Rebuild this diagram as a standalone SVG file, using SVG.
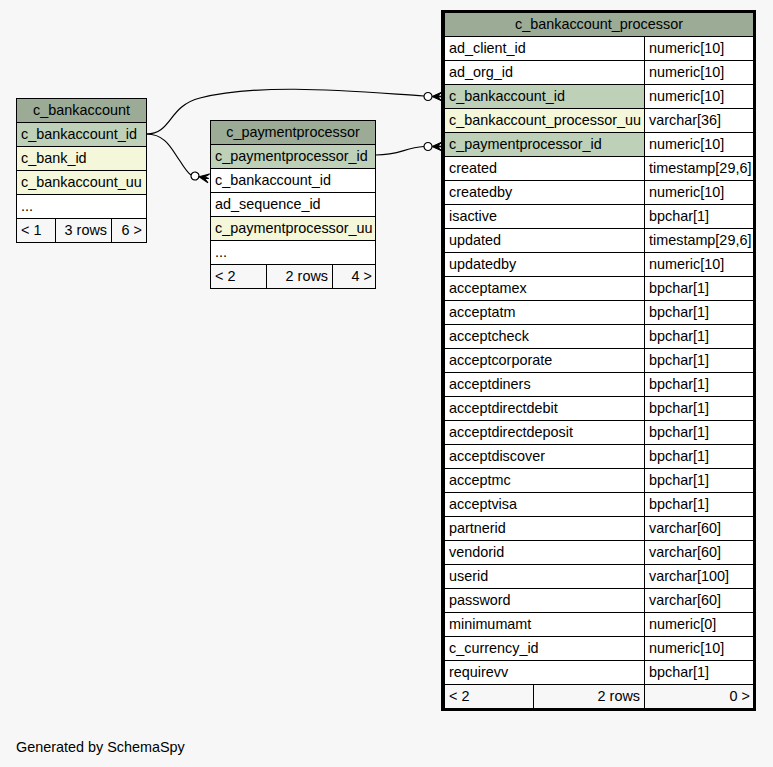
<svg xmlns="http://www.w3.org/2000/svg" width="773" height="767" viewBox="0 0 773 767">
<style>
text{font-family:"Liberation Sans",Arial,sans-serif;font-size:14.4px;fill:#000}
.c{text-anchor:middle}.r{text-anchor:end}
.hd{fill:#9bab96;stroke:#000;stroke-width:1}
.pk{fill:#bed1b8;stroke:#000;stroke-width:1}
.ix{fill:#f4f7da;stroke:#000;stroke-width:1}
.w{fill:#fff;stroke:#000;stroke-width:1}
.ft{fill:#f7f7f7;stroke:#000;stroke-width:1}
.edge{fill:none;stroke:#000;stroke-width:1.2}
.dot{fill:#fff;stroke:#000;stroke-width:1.2}
.cf{fill:#000;stroke:#000;stroke-width:1}
</style>
<defs>
<g id="crow"><circle class="dot" cx="0" cy="0" r="4"/><path class="cf" d="M4,0 L14,-4.5 L10,-0.8 L14,0 L10,0.8 L14,4.5 Z"/></g>
</defs>
<rect width="773" height="767" fill="#f7f7f7"/>

<g id="connectors">
<path class="edge" d="M146.5,134 C172,134 168,106 200,98 C262,82 360,92 424,96"/>
<use href="#crow" transform="translate(428,96.5)"/>
<path class="edge" d="M146.5,134 C166,134 172,150 180,161 C185,169 188,173 191,175"/>
<use href="#crow" transform="translate(195,176) rotate(10)"/>
<path class="edge" d="M376,155 C400,155 404,148 424,146.5"/>
<use href="#crow" transform="translate(428,146.5)"/>
</g>

<g id="c_bankaccount">
<rect class="hd" x="16.5" y="98.5" width="130" height="24"/>
<text class="c" x="81.5" y="115">c_bankaccount</text>
<rect class="pk" x="16.5" y="122.5" width="130" height="24"/>
<text x="21" y="139">c_bankaccount_id</text>
<rect class="ix" x="16.5" y="146.5" width="130" height="24"/>
<text x="21" y="163">c_bank_id</text>
<rect class="ix" x="16.5" y="170.5" width="130" height="24"/>
<text x="21" y="187">c_bankaccount_uu</text>
<rect class="w" x="16.5" y="194.5" width="130" height="24"/>
<text x="21" y="211">...</text>
<rect class="ft" x="16.5" y="218.5" width="39" height="24"/>
<rect class="ft" x="55.5" y="218.5" width="56" height="24"/>
<rect class="ft" x="111.5" y="218.5" width="35" height="24"/>
<text x="21" y="235">&lt; 1</text>
<text class="r" x="107" y="235">3 rows</text>
<text class="r" x="142" y="235">6 &gt;</text>
</g>

<g id="c_paymentprocessor">
<rect class="hd" x="210.5" y="120.5" width="165" height="24"/>
<text class="c" x="293" y="137">c_paymentprocessor</text>
<rect class="pk" x="210.5" y="144.5" width="165" height="24"/>
<text x="215" y="161">c_paymentprocessor_id</text>
<rect class="w" x="210.5" y="168.5" width="165" height="24"/>
<text x="215" y="185">c_bankaccount_id</text>
<rect class="w" x="210.5" y="192.5" width="165" height="24"/>
<text x="215" y="209">ad_sequence_id</text>
<rect class="ix" x="210.5" y="216.5" width="165" height="24"/>
<text x="215" y="233">c_paymentprocessor_uu</text>
<rect class="w" x="210.5" y="240.5" width="165" height="24"/>
<text x="215" y="257">...</text>
<rect class="ft" x="210.5" y="264.5" width="56" height="24"/>
<rect class="ft" x="266.5" y="264.5" width="66" height="24"/>
<rect class="ft" x="332.5" y="264.5" width="43" height="24"/>
<text x="215" y="281">&lt; 2</text>
<text class="r" x="328" y="281">2 rows</text>
<text class="r" x="372" y="281">4 &gt;</text>
</g>

<g id="c_bankaccount_processor">
<rect class="hd" x="444.5" y="12.5" width="309" height="24"/>
<text class="c" x="599" y="29">c_bankaccount_processor</text>
<rect class="w" x="444.5" y="36.5" width="200" height="24"/><rect class="w" x="644.5" y="36.5" width="109" height="24"/>
<text x="449" y="53">ad_client_id</text><text x="649" y="53">numeric[10]</text>
<rect class="w" x="444.5" y="60.5" width="200" height="24"/><rect class="w" x="644.5" y="60.5" width="109" height="24"/>
<text x="449" y="77">ad_org_id</text><text x="649" y="77">numeric[10]</text>
<rect class="pk" x="444.5" y="84.5" width="200" height="24"/><rect class="w" x="644.5" y="84.5" width="109" height="24"/>
<text x="449" y="101">c_bankaccount_id</text><text x="649" y="101">numeric[10]</text>
<rect class="ix" x="444.5" y="108.5" width="200" height="24"/><rect class="w" x="644.5" y="108.5" width="109" height="24"/>
<text x="449" y="125">c_bankaccount_processor_uu</text><text x="649" y="125">varchar[36]</text>
<rect class="pk" x="444.5" y="132.5" width="200" height="24"/><rect class="w" x="644.5" y="132.5" width="109" height="24"/>
<text x="449" y="149">c_paymentprocessor_id</text><text x="649" y="149">numeric[10]</text>
<rect class="w" x="444.5" y="156.5" width="200" height="24"/><rect class="w" x="644.5" y="156.5" width="109" height="24"/>
<text x="449" y="173">created</text><text x="649" y="173">timestamp[29,6]</text>
<rect class="w" x="444.5" y="180.5" width="200" height="24"/><rect class="w" x="644.5" y="180.5" width="109" height="24"/>
<text x="449" y="197">createdby</text><text x="649" y="197">numeric[10]</text>
<rect class="w" x="444.5" y="204.5" width="200" height="24"/><rect class="w" x="644.5" y="204.5" width="109" height="24"/>
<text x="449" y="221">isactive</text><text x="649" y="221">bpchar[1]</text>
<rect class="w" x="444.5" y="228.5" width="200" height="24"/><rect class="w" x="644.5" y="228.5" width="109" height="24"/>
<text x="449" y="245">updated</text><text x="649" y="245">timestamp[29,6]</text>
<rect class="w" x="444.5" y="252.5" width="200" height="24"/><rect class="w" x="644.5" y="252.5" width="109" height="24"/>
<text x="449" y="269">updatedby</text><text x="649" y="269">numeric[10]</text>
<rect class="w" x="444.5" y="276.5" width="200" height="24"/><rect class="w" x="644.5" y="276.5" width="109" height="24"/>
<text x="449" y="293">acceptamex</text><text x="649" y="293">bpchar[1]</text>
<rect class="w" x="444.5" y="300.5" width="200" height="24"/><rect class="w" x="644.5" y="300.5" width="109" height="24"/>
<text x="449" y="317">acceptatm</text><text x="649" y="317">bpchar[1]</text>
<rect class="w" x="444.5" y="324.5" width="200" height="24"/><rect class="w" x="644.5" y="324.5" width="109" height="24"/>
<text x="449" y="341">acceptcheck</text><text x="649" y="341">bpchar[1]</text>
<rect class="w" x="444.5" y="348.5" width="200" height="24"/><rect class="w" x="644.5" y="348.5" width="109" height="24"/>
<text x="449" y="365">acceptcorporate</text><text x="649" y="365">bpchar[1]</text>
<rect class="w" x="444.5" y="372.5" width="200" height="24"/><rect class="w" x="644.5" y="372.5" width="109" height="24"/>
<text x="449" y="389">acceptdiners</text><text x="649" y="389">bpchar[1]</text>
<rect class="w" x="444.5" y="396.5" width="200" height="24"/><rect class="w" x="644.5" y="396.5" width="109" height="24"/>
<text x="449" y="413">acceptdirectdebit</text><text x="649" y="413">bpchar[1]</text>
<rect class="w" x="444.5" y="420.5" width="200" height="24"/><rect class="w" x="644.5" y="420.5" width="109" height="24"/>
<text x="449" y="437">acceptdirectdeposit</text><text x="649" y="437">bpchar[1]</text>
<rect class="w" x="444.5" y="444.5" width="200" height="24"/><rect class="w" x="644.5" y="444.5" width="109" height="24"/>
<text x="449" y="461">acceptdiscover</text><text x="649" y="461">bpchar[1]</text>
<rect class="w" x="444.5" y="468.5" width="200" height="24"/><rect class="w" x="644.5" y="468.5" width="109" height="24"/>
<text x="449" y="485">acceptmc</text><text x="649" y="485">bpchar[1]</text>
<rect class="w" x="444.5" y="492.5" width="200" height="24"/><rect class="w" x="644.5" y="492.5" width="109" height="24"/>
<text x="449" y="509">acceptvisa</text><text x="649" y="509">bpchar[1]</text>
<rect class="w" x="444.5" y="516.5" width="200" height="24"/><rect class="w" x="644.5" y="516.5" width="109" height="24"/>
<text x="449" y="533">partnerid</text><text x="649" y="533">varchar[60]</text>
<rect class="w" x="444.5" y="540.5" width="200" height="24"/><rect class="w" x="644.5" y="540.5" width="109" height="24"/>
<text x="449" y="557">vendorid</text><text x="649" y="557">varchar[60]</text>
<rect class="w" x="444.5" y="564.5" width="200" height="24"/><rect class="w" x="644.5" y="564.5" width="109" height="24"/>
<text x="449" y="581">userid</text><text x="649" y="581">varchar[100]</text>
<rect class="w" x="444.5" y="588.5" width="200" height="24"/><rect class="w" x="644.5" y="588.5" width="109" height="24"/>
<text x="449" y="605">password</text><text x="649" y="605">varchar[60]</text>
<rect class="w" x="444.5" y="612.5" width="200" height="24"/><rect class="w" x="644.5" y="612.5" width="109" height="24"/>
<text x="449" y="629">minimumamt</text><text x="649" y="629">numeric[0]</text>
<rect class="w" x="444.5" y="636.5" width="200" height="24"/><rect class="w" x="644.5" y="636.5" width="109" height="24"/>
<text x="449" y="653">c_currency_id</text><text x="649" y="653">numeric[10]</text>
<rect class="w" x="444.5" y="660.5" width="200" height="24"/><rect class="w" x="644.5" y="660.5" width="109" height="24"/>
<text x="449" y="677">requirevv</text><text x="649" y="677">bpchar[1]</text>
<rect class="ft" x="444.5" y="684.5" width="89" height="24"/>
<rect class="ft" x="533.5" y="684.5" width="111" height="24"/>
<rect class="ft" x="644.5" y="684.5" width="109" height="24"/>
<text x="449" y="701">&lt; 2</text>
<text class="r" x="640" y="701">2 rows</text>
<text class="r" x="750" y="701">0 &gt;</text>
<rect x="442.5" y="11.5" width="312" height="698" fill="none" stroke="#000" stroke-width="3"/>
</g>

<text x="16" y="752">Generated by SchemaSpy</text>
</svg>
